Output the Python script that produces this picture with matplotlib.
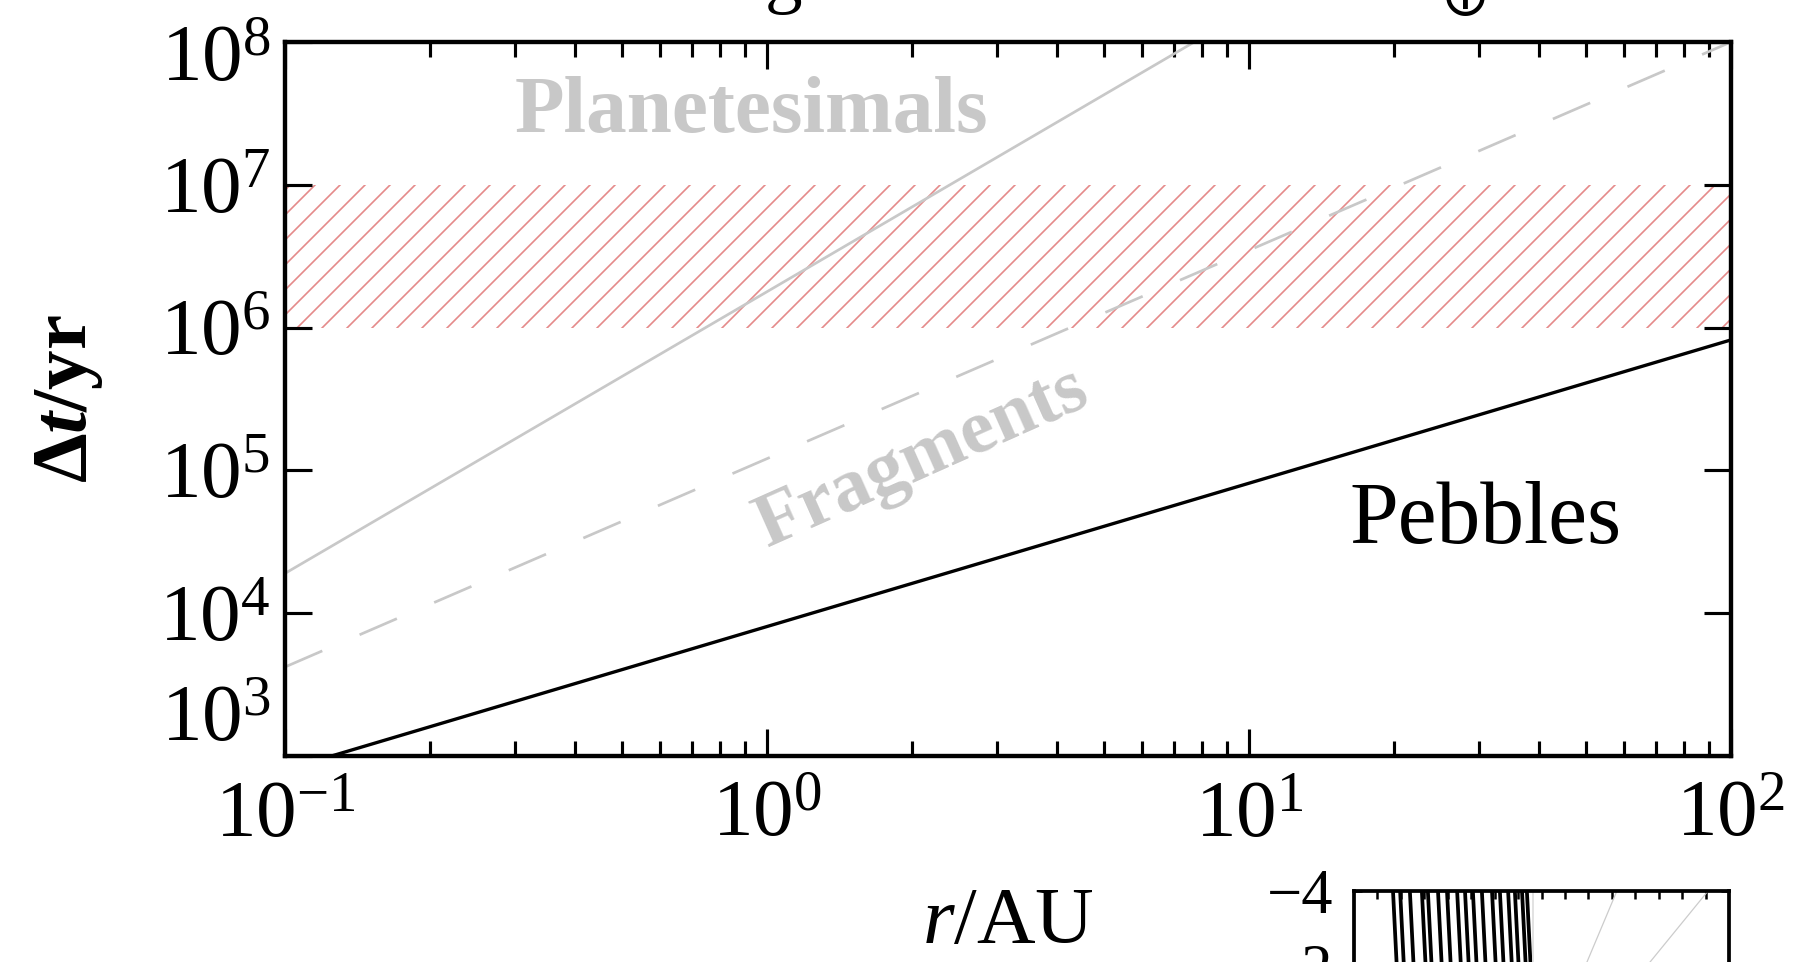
import numpy as np
import matplotlib
matplotlib.use("Agg")
import matplotlib.pyplot as plt
from matplotlib.transforms import offset_copy

plt.rcParams['font.family'] = ['Liberation Serif', 'DejaVu Serif', 'DejaVu Sans']
plt.rcParams['mathtext.fontset'] = 'custom'
plt.rcParams['mathtext.rm'] = 'Liberation Serif'
plt.rcParams['mathtext.it'] = 'Liberation Serif:italic'
plt.rcParams['mathtext.bf'] = 'Liberation Serif:bold'
plt.rcParams['mathtext.bfit'] = 'Liberation Serif:italic:bold'
plt.rcParams['hatch.linewidth'] = 0.8

# growth timescale vs distance (end points)
r_peb = [0.1, 100.0]
dt_peb = [8.0e2, 8.2e5]
r_frag = [0.1, 100.0]
dt_frag = [4.2e3, 1.0e8]
r_plan = [0.1, 7.7]
dt_plan = [1.9e4, 1.0e8]
disc_life = [1e6, 1e7]   # hatched band
xlim = [0.1, 100.0]
ylim = [1e3, 1e8]
x_exp = [-1, 0, 1, 2]
y_exp = [3, 4, 5, 6, 7, 8]

# piece of the neighbouring panel that pokes in at the bottom right
inset_top = [0.104, 0.123, 0.149, 0.181, 0.197, 0.224, 0.248, 0.275, 0.296,
             0.317, 0.341, 0.368, 0.389, 0.411, 0.429, 0.448, 0.461]
inset_shift = 0.01
inset_grey_top = [0.701, 0.944]
inset_grey_bot = [0.621, 0.789]

W, H, DPI = 1795, 962, 150
fig = plt.figure(figsize=(W / DPI, H / DPI), dpi=DPI)
ax = fig.add_axes([285 / W, 1 - 756 / H, (1731 - 285) / W, (756 - 42) / H])

grey = '#c8c8c8'
ax.fill_between(xlim, disc_life[0], disc_life[1], facecolor='none',
                edgecolor='#e58a8a', hatch='//', linewidth=0, zorder=1)
ax.plot(r_plan, dt_plan, color=grey, lw=1.3, zorder=2)
ax.plot(r_frag, dt_frag, color=grey, lw=1.3, ls=(0, (15, 15)), zorder=2)
ax.plot(r_peb, dt_peb, color='black', lw=1.6, zorder=3)

ax.set_xscale('log')
ax.set_yscale('log')
ax.set_xlim(xlim)
ax.set_ylim(ylim)

fs_tick = 39
ax.set_xticks([10.0 ** e for e in x_exp], [r'$10^{%d}$' % e for e in x_exp])
ylabs = [r'$10^{%d}$' % e for e in y_exp]
ax.set_yticks([10.0 ** e for e in y_exp], ['', *ylabs[1:-1], ''])
# the end labels sit a bit inside the axis in the original
t3 = offset_copy(ax.get_yaxis_transform(), fig=fig, x=-14, y=34, units='dots')
ax.text(0, 10.0 ** y_exp[0], ylabs[0], transform=t3, ha='right', va='center', fontsize=fs_tick)
t8 = offset_copy(ax.get_yaxis_transform(), fig=fig, x=-14, y=-20, units='dots')
ax.text(0, 10.0 ** y_exp[-1], ylabs[-1], transform=t8, ha='right', va='center', fontsize=fs_tick)

ax.tick_params(which='both', direction='in', top=True, right=True, labelsize=fs_tick)
ax.tick_params(which='major', length=13, width=1.5)
ax.tick_params(which='minor', length=7, width=1.5)
ax.tick_params(axis='x', pad=12)
ax.tick_params(axis='y', pad=7)
for s in ax.spines.values():
    s.set_linewidth(2.1)

ax.set_xlabel(r'$\mathit{r}$/AU', fontsize=39, labelpad=16)
ax.set_ylabel(r'$\mathbf{\Delta}\mathbfit{t}\mathbf{/yr}$', fontsize=38, labelpad=26)

ax.text(0.93, 3.2e7, 'Planetesimals', color=grey, fontsize=39, fontweight='bold',
        ha='center', va='center')
ax.text(2.1, 1.22e5, 'Fragments', color=grey, fontsize=37, fontweight='bold',
        ha='center', va='center', rotation=24)
ax.text(31, 4.4e4, 'Pebbles', color='black', fontsize=42, ha='center', va='center')

# bits of the title cut off by the crop
fig.text(784 / W, 1 + 1 / H, 'g', fontsize=36, ha='center', va='baseline')
fig.text(1465 / W, 1 + 2 / H, '\u2295', fontsize=28, ha='center', va='center',
         family='DejaVu Sans')

# neighbouring panel
ax2 = fig.add_axes([1354 / W, 1 - (891 + 300) / H, (1729 - 1354) / W, 300 / H])
ax2.set_xlim(0, 1)
ax2.set_ylim(4, -4)
for x0 in inset_top:
    ax2.plot([x0, x0 + inset_shift], [-4, -2], color='black', lw=1.8)
ax2.axvline(0.477, color='#dddddd', lw=0.8)
for a, b in zip(inset_grey_top, inset_grey_bot):
    ax2.plot([a, b], [-4, -2.1], color='#cccccc', lw=0.6)
ax2.set_yticks([-4, -2], ['\u22124', '\u22122'])
ax2.set_xticks(np.arange(1, 16) / 16, [])
ax2.tick_params(which='both', direction='in', top=True, right=True, labelsize=30,
                length=4, width=1.2, pad=10)
for s in ax2.spines.values():
    s.set_linewidth(1.8)

fig.savefig('out.png', dpi=DPI)
